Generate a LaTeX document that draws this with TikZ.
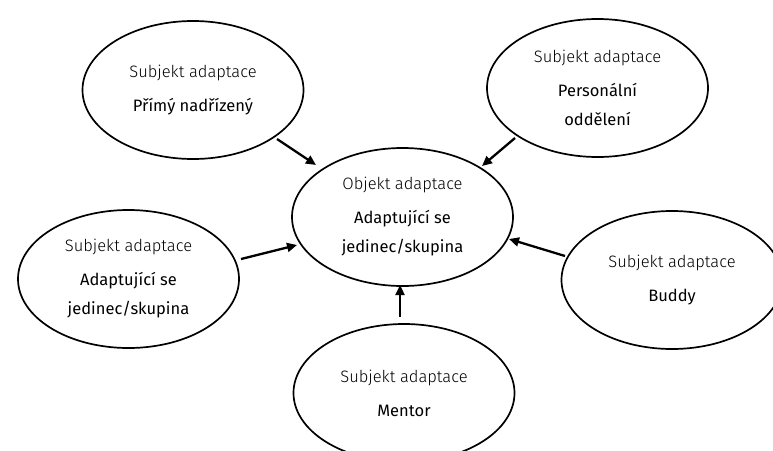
\documentclass[tikz,border=0pt]{standalone}
\usepackage{fontspec}
\setmainfont{Fira Sans}
\newfontfamily\litefont{Fira Sans Light}
\usetikzlibrary{shapes.geometric,arrows.meta}
\tikzset{
  bubble/.style={draw=black, line width=1.7pt, ellipse, minimum width=221pt, minimum height=138pt, inner sep=0pt, align=center, font=\fontsize{16.5}{19}\selectfont},
  arr/.style={line width=2.3pt, -{Triangle[length=10pt,width=9pt]}}
}
\newcommand{\subj}[1]{{\litefont #1}}
\begin{document}
\begin{tikzpicture}[x=1pt,y=-1pt]
\useasboundingbox (0,0) rectangle (773,450);
\clip (0,0) rectangle (773,450);
\node[bubble] (tl) at (193,90) {\subj{Subjekt adaptace}\\[15pt]Přímý nadřízený};
\node[bubble] (tr) at (597.5,88) {\subj{Subjekt adaptace}\\[15pt]Personální\\[10pt]oddělení};
\node[bubble] (c) at (402.5,217) {\subj{Objekt adaptace}\\[15pt]Adaptující se\\[10pt]jedinec/skupina};
\node[bubble] (l) at (128.5,279) {\subj{Subjekt adaptace}\\[15pt]Adaptující se\\[10pt]jedinec/skupina};
\node[bubble] (r) at (672,280) {\subj{Subjekt adaptace}\\[15pt]Buddy};
\node[bubble] (b) at (404,393) {\subj{Subjekt adaptace}\\[15pt]Mentor};
\coordinate (a1s) at (277,139); \coordinate (a1e) at (316,165);
\coordinate (a2s) at (515,138); \coordinate (a2e) at (482,166);
\coordinate (a3s) at (241,259); \coordinate (a3e) at (297,245);
\coordinate (a4s) at (565,256); \coordinate (a4e) at (509,239);
\coordinate (a5s) at (400,317); \coordinate (a5e) at (400,285);
\draw[arr] (a1s) -- (a1e);
\draw[arr] (a2s) -- (a2e);
\draw[arr] (a3s) -- (a3e);
\draw[arr] (a4s) -- (a4e);
\draw[arr] (a5s) -- (a5e);
\end{tikzpicture}
\end{document}
